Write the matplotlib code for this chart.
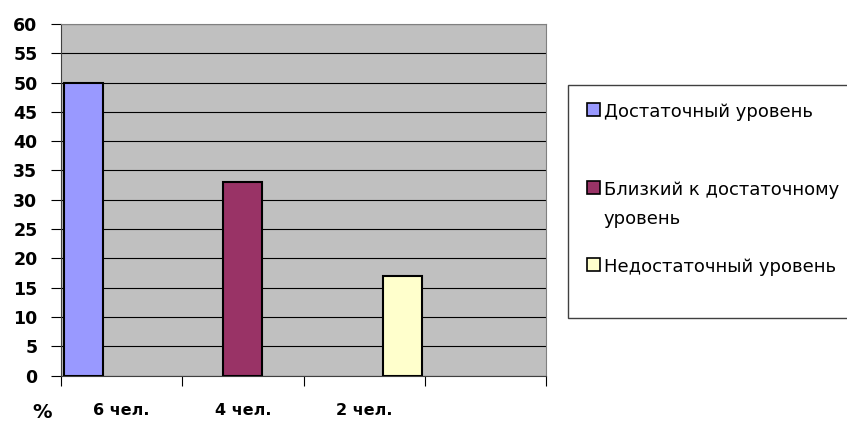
import numpy as np
import matplotlib
matplotlib.use("Agg")
import matplotlib.pyplot as plt
from matplotlib.patches import Rectangle

# data
categories = ["6 чел.", "4 чел.", "2 чел.", ""]
series_names = ["Достаточный уровень", "Близкий к достаточному\nуровень", "Недостаточный уровень"]
values = [50, 33, 17]
colors = ["#9999FF", "#993366", "#FFFFCC"]
y_ticks = list(range(0, 61, 5))

plt.rcParams['font.family'] = ['DejaVu Sans']

fig = plt.figure(figsize=(8.47, 4.25), dpi=100)
ax = fig.add_axes([61 / 847, 49.4 / 425, 485 / 847, 351.6 / 425])
ax.set_facecolor("#C0C0C0")

# each series sits in its own category slot, like the Excel clustered layout
width = 0.32
step = 0.315
for i, (name, v, c) in enumerate(zip(series_names, values, colors)):
    x = i + 0.5 + (i - 1) * step
    ax.bar(x, v, width=width, color=c, edgecolor="black", linewidth=1.5, zorder=3)

ax.set_xlim(0, len(categories))
ax.set_ylim(0, 60)
ax.set_yticks(y_ticks)
ax.set_yticklabels([str(t) for t in y_ticks], fontsize=12.5, fontweight="bold")
ax.yaxis.grid(True, color="black", linewidth=0.8, zorder=1)
ax.set_axisbelow(True)

ax.set_xticks(np.arange(len(categories) + 1))
ax.set_xticklabels([])
ax.set_xticks(np.arange(len(categories)) + 0.5, minor=True)
ax.set_xticklabels(categories, minor=True, fontsize=11.5, fontweight="bold")
ax.tick_params(axis="x", which="minor", length=0, pad=20)
ax.tick_params(axis="x", which="major", length=7, width=0.8, direction="out")
ax.tick_params(axis="y", length=7, width=0.8, pad=10, direction="out")

for s in ["top", "right"]:
    ax.spines[s].set_color("#808080")
for s in ["left", "bottom"]:
    ax.spines[s].set_color("#404040")

fig.text(42 / 847, 1 - 412 / 425, "%", fontsize=14, fontweight="bold", ha="center", va="center")

# legend box drawn by hand to keep Excel's uneven spacing
fig.patches.append(Rectangle((568 / 847, 1 - 318 / 425), 290 / 847, 233 / 425,
                             transform=fig.transFigure, facecolor="white",
                             edgecolor="#404040", linewidth=1))
legend_y = [110, 188, 265]
line_gap = 29
for name, c, y in zip(series_names, colors, legend_y):
    fig.patches.append(Rectangle((587 / 847, 1 - (y + 6) / 425), 13 / 847, 13 / 425,
                                 transform=fig.transFigure, facecolor=c,
                                 edgecolor="black", linewidth=1.2))
    for k, line in enumerate(name.split("\n")):
        fig.text(604 / 847, 1 - (y + k * line_gap) / 425, line, fontsize=13,
                 ha="left", va="center_baseline")

fig.savefig("out.png", dpi=100)
